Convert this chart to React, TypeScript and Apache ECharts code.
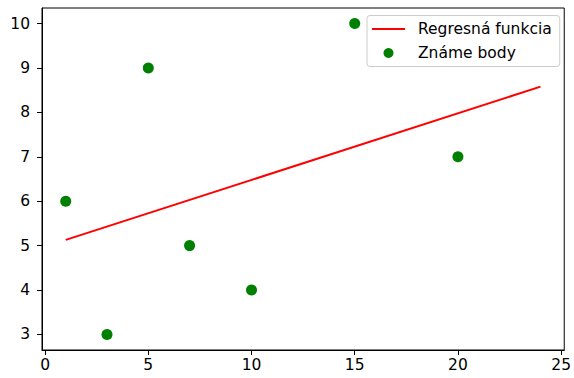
import React, { useEffect, useRef } from "react";
import * as echarts from "echarts";

const pointX = [1, 3, 5, 7, 10, 15, 20];
const pointY = [6, 3, 9, 5, 4, 10, 7];
const lineX = [1, 24];
const lineY = [5.13, 8.58];
const xTicks = [0, 5, 10, 15, 20, 25];
const yTicks = [3, 4, 5, 6, 7, 8, 9, 10];
const seriesNames = ["Regresná funkcia", "Známe body"];

const FONT = "DejaVu Sans";
const FS = 15.5;

export default function App() {
  const ref = useRef<HTMLDivElement>(null);
  useEffect(() => {
    if (!ref.current) return;
    const chart = echarts.init(ref.current, undefined, { renderer: "svg" });
    const axisCommon = {
      axisLine: { show: true, onZero: false, lineStyle: { color: "#000", width: 1 } },
      axisTick: { show: true, inside: false, length: 5, lineStyle: { color: "#000", width: 1 } },
      splitLine: { show: false },
    };
    chart.setOption({
      animation: false,
      backgroundColor: "#fff",
      grid: { left: 42, right: 5, top: 8, bottom: 28, containLabel: false, show: true, borderColor: "#000", borderWidth: 1 },
      xAxis: {
        type: "value",
        min: -0.15,
        max: 25.15,
        ...axisCommon,
        axisLabel: {
          color: "#000",
          fontFamily: FONT,
          fontSize: FS,
          margin: 7,
          showMinLabel: true,
          showMaxLabel: true,
          customValues: xTicks,
        },
        axisTick: { ...axisCommon.axisTick, customValues: xTicks },
      },
      yAxis: {
        type: "value",
        min: 2.65,
        max: 10.35,
        ...axisCommon,
        axisLabel: {
          color: "#000",
          fontFamily: FONT,
          fontSize: FS,
          margin: 12,
          customValues: yTicks,
        },
        axisTick: { ...axisCommon.axisTick, customValues: yTicks },
      },
      legend: {
        orient: "vertical",
        left: 367,
        top: 15.5,
        itemWidth: 33,
        itemHeight: 10,
        itemGap: 8,
        padding: [5.5, 8, 5.5, 5],
        backgroundColor: "rgba(255,255,255,0.8)",
        borderColor: "#cccccc",
        borderWidth: 1,
        borderRadius: 3,
        textStyle: { color: "#000", fontFamily: FONT, fontSize: FS, lineHeight: 16, padding: [0, 0, 0, 8] },
        data: [
          { name: seriesNames[0], icon: "path://M0,0 L33,0 L33,2 L0,2 Z" },
          { name: seriesNames[1], icon: "circle" },
        ],
      },
      series: [
        {
          name: seriesNames[0],
          type: "line",
          data: lineX.map((x, i) => [x, lineY[i]]),
          showSymbol: false,
          symbol: "none",
          lineStyle: { color: "#ff0000", width: 2 },
          itemStyle: { color: "#ff0000" },
        },
        {
          name: seriesNames[1],
          type: "scatter",
          data: pointX.map((x, i) => [x, pointY[i]]),
          symbolSize: 11,
          itemStyle: { color: "#008000", opacity: 1 },
        },
      ],
    });
    return () => chart.dispose();
  }, []);
  return <div ref={ref} style={{ width: 574, height: 378, position: "absolute", left: 0, top: 0 }} />;
}
